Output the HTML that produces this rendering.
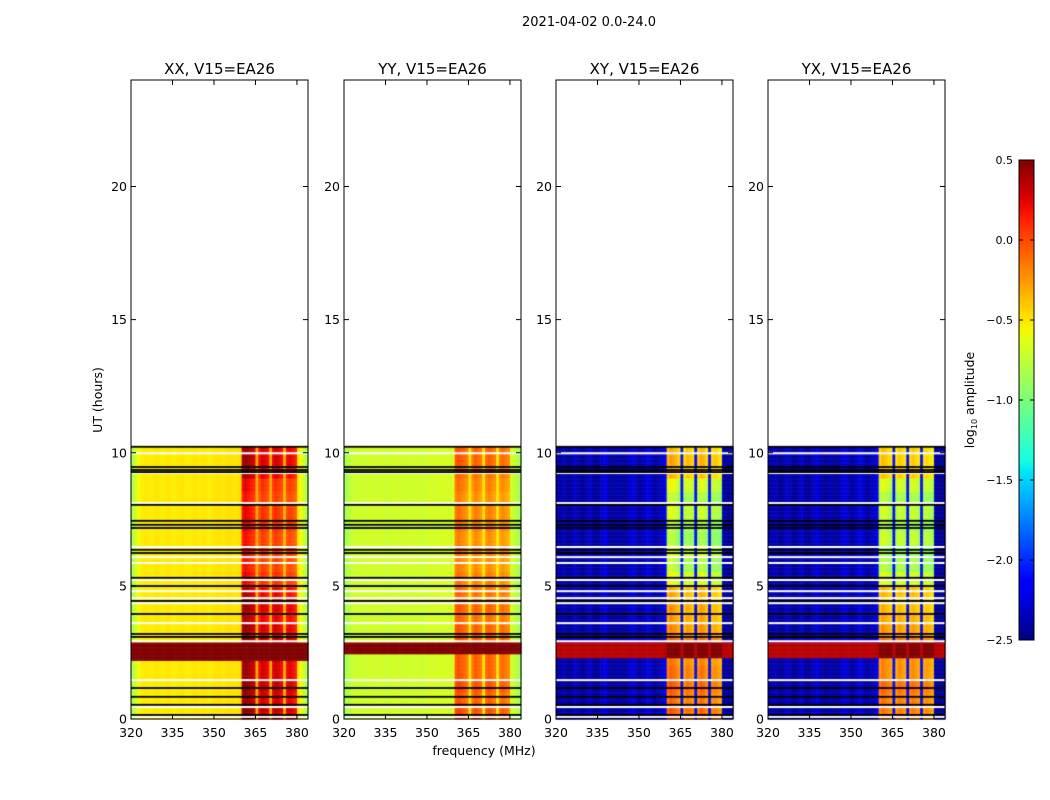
<!DOCTYPE html>
<html><head><meta charset="utf-8">
<style>
body{margin:0;background:#fff;width:1050px;height:800px;overflow:hidden;position:relative;font-family:"DejaVu Sans","Liberation Sans",sans-serif;}
canvas,svg{position:absolute;left:0;top:0;}
</style></head>
<body>
<canvas id="heat" width="1050" height="800"></canvas>
<svg id="ov" width="1050" height="800"></svg>
<script>
// ---- data ----
const panelTitles = ["XX, V15=EA26","YY, V15=EA26","XY, V15=EA26","YX, V15=EA26"];
const freqStart = 320, freqEnd = 384;          // MHz, 1 MHz channels
const tStart = 0, tEnd = 24;                    // hours
const dataEnd = 10.25;
const xTicks = [320,335,350,365,380];
const yTicks = [0,5,10,15,20];
const cbTicks = [0.5,0.0,-0.5,-1.0,-1.5,-2.0,-2.5];
const rfiMask = [0,0,0,0,0,0,0,0,0,0, 0,0,0,0,0,0,0,0,0,0, 0,0,0,0,0,0,0,0,0,0, 0,0,0,0,0,0,0,0,0,0,
                 1,1,1,1,1,0,1,1,1,1, 0,1,1,1,1,0,1,1,1,1, 0,0,0,0];
const xxSpec = [-0.85,-0.7,-0.58,-0.54,-0.52,-0.51,-0.52,-0.53,-0.51,-0.5, -0.52,-0.53,-0.51,-0.5,-0.52,-0.54,-0.52,-0.51,-0.5,-0.52,
  -0.53,-0.52,-0.51,-0.5,-0.52,-0.51,-0.5,-0.52,-0.53,-0.51, -0.5,-0.49,-0.5,-0.51,-0.49,-0.48,-0.49,-0.5,-0.49,-0.47,
  0.3,0.35,0.3,0.25,0.2, -0.3, 0.1,0.2,0.15,0.1, -0.3, 0.15,0.2,0.15,0.1, -0.35, 0.1,0.15,0.1,0.05, -0.5,-0.58,-0.7,-0.85];
const yySpec = [-0.88,-0.8,-0.74,-0.72,-0.7,-0.69,-0.7,-0.71,-0.69,-0.68, -0.7,-0.71,-0.69,-0.68,-0.7,-0.72,-0.7,-0.69,-0.68,-0.7,
  -0.71,-0.7,-0.69,-0.68,-0.7,-0.69,-0.68,-0.7,-0.71,-0.69, -0.68,-0.67,-0.68,-0.69,-0.67,-0.66,-0.67,-0.68,-0.67,-0.66,
  -0.1,-0.05,-0.1,-0.15,-0.2, -0.5, -0.2,-0.1,-0.15,-0.2, -0.5, -0.15,-0.1,-0.15,-0.2, -0.5, -0.2,-0.15,-0.2,-0.25, -0.68,-0.72,-0.78,-0.88];
const xySpec = [-2.4,-2.4,-2.35,-2.4,-2.45,-2.4,-2.3,-2.35,-2.4,-2.45, -2.4,-2.35,-2.3,-2.4,-2.45,-2.4,-2.35,-2.2,-2.3,-2.4,
  -2.45,-2.4,-2.35,-2.4,-2.45,-2.4,-2.3,-2.25,-2.3,-2.4, -2.4,-2.35,-2.3,-2.25,-2.3,-2.4,-2.4,-2.35,-2.3,-2.2,
  -0.7,-0.6,-0.65,-0.7,-0.8, -2.1, -0.8,-0.7,-0.75,-0.8, -2.1, -0.75,-0.65,-0.7,-0.8, -2.1, -0.8,-0.75,-0.8,-0.85, -2.4,-2.4,-2.45,-2.45];
const yxSpec = [-2.4,-2.35,-2.35,-2.4,-2.45,-2.4,-2.3,-2.35,-2.4,-2.45, -2.4,-2.35,-2.3,-2.4,-2.45,-2.4,-2.35,-2.25,-2.3,-2.4,
  -2.45,-2.4,-2.35,-2.4,-2.45,-2.4,-2.3,-2.25,-2.3,-2.4, -2.4,-2.35,-2.3,-2.25,-2.3,-2.4,-2.4,-2.35,-2.3,-2.2,
  -0.75,-0.65,-0.7,-0.75,-0.8, -2.1, -0.8,-0.7,-0.75,-0.8, -2.1, -0.75,-0.7,-0.75,-0.8, -2.1, -0.8,-0.75,-0.8,-0.85, -2.4,-2.4,-2.45,-2.45];
// RFI offset per 0.5 h segment (0..10.5 h)
const xxRfiProf = [0.15,0.1,0.15,0.1,0.1, 0.2, 0.1,0.05,0.1,0.05, -0.1,-0.15,-0.1,-0.15,-0.1,-0.1,-0.15,-0.1,0.05,0.1,0.1];
const yyRfiProf = [0.1,0.05,0.1,0.05,0.05, 0.1, 0.05,0.0,0.05,0.0, -0.05,-0.1,-0.05,-0.1,-0.05,-0.05,-0.1,-0.05,0.0,0.05,0.05];
const xyRfiProf = [0.6,0.55,0.6,0.55,0.5, 0.6, 0.45,0.4,0.4,0.35, 0.05,-0.1,0.0,-0.15,-0.1,0.0,-0.1,0.05,0.3,0.35,0.3];
const yxRfiProf = [0.55,0.55,0.6,0.5,0.5, 0.6, 0.45,0.4,0.35,0.35, 0.05,-0.1,-0.15,0.0,-0.1,0.0,-0.1,0.05,0.3,0.3,0.3];
const bandStart = [2.2,2.4,2.3,2.3];
const bandEnd = [2.85,2.85,2.85,2.85];
const bandValue = [0.6,0.6,0.35,0.35];
const bandRfiValue = [0.6,0.6,0.6,0.6];
const whiteRows = [9.98,9.24,8.11,6.46,6.08,5.86,5.22,4.8,4.54,4.35,3.6,2.92,1.46,0.45,0.08];
const blackRows = [10.22,9.46,9.35,9.27,8.04,7.44,7.29,7.17,6.35,6.23,5.3,4.99,4.43,3.94,3.19,3.08,1.16,0.83,0.53,0.15];

{
const specs = [xxSpec,yySpec,xySpec,yxSpec];
const profs = [xxRfiProf,yyRfiProf,xyRfiProf,yxRfiProf];
// ---- layout ----
const panelLeft = [131,344,556,768], panelW = 177, axTop = 80, axBottom = 719;
const vmin=-2.5, vmax=0.5;
function xOf(p,f){return panelLeft[p] + (f-freqStart)/(freqEnd-freqStart)*panelW;}
function yOf(t){return axBottom - (t-tStart)/(tEnd-tStart)*(axBottom-axTop);}
function interp(pts,x){
  for(let i=1;i<pts.length;i++){ if(x<=pts[i][0]){const a=pts[i-1],b=pts[i];return a[1]+(b[1]-a[1])*(x-a[0])/(b[0]-a[0]);} }
  return pts[pts.length-1][1];
}
const jr=[[0,0],[0.35,0],[0.66,1],[0.89,1],[1,0.5]];
const jg=[[0,0],[0.125,0],[0.375,1],[0.64,1],[0.91,0],[1,0]];
const jb=[[0,0.5],[0.11,1],[0.34,1],[0.65,0],[1,0]];
function jet(v){
  let x=(v-vmin)/(vmax-vmin); x=Math.max(0,Math.min(1,x));
  const c=a=>Math.round(255*a);
  return `rgb(${c(interp(jr,x))},${c(interp(jg,x))},${c(interp(jb,x))})`;
}
const ctx=document.getElementById('heat').getContext('2d');
const dt=0.05;
for(let p=0;p<4;p++){
  const spec=specs[p], prof=profs[p];
  for(let t=0;t<dataEnd;t+=dt){
    const seg=Math.min(prof.length-1,Math.floor(t/0.5));
    const inBand = t>=bandStart[p] && t<bandEnd[p];
    const y0=yOf(t+dt), y1=yOf(t);
    for(let i=0;i<spec.length;i++){
      let v;
      if(inBand) v = rfiMask[i]?bandRfiValue[p]:bandValue[p];
      else v = spec[i] + (rfiMask[i]?prof[seg]:0);
      ctx.fillStyle=jet(v);
      const x0=xOf(p,freqStart+i), x1=xOf(p,freqStart+i+1);
      ctx.fillRect(x0,y0,x1-x0+0.5,y1-y0+0.5);
    }
  }
  const L=panelLeft[p];
  ctx.fillStyle='#fff';
  whiteRows.forEach(t=>ctx.fillRect(L,yOf(t)-1,panelW,2));
  ctx.fillStyle='#000';
  blackRows.forEach(t=>ctx.fillRect(L,yOf(t)-1,panelW,1.8));
}
// ---- axes overlay ----
const NS='http://www.w3.org/2000/svg', svg=document.getElementById('ov');
function el(tag,attrs,parent){const e=document.createElementNS(NS,tag);for(const k in attrs)e.setAttribute(k,attrs[k]);(parent||svg).appendChild(e);return e;}
function txt(s,attrs,parent){const e=el('text',attrs,parent);e.textContent=s;return e;}
const sup=txt("2021-04-02 0.0-24.0",{x:589,y:26,'text-anchor':'middle','font-size':13});


for(let p=0;p<4;p++){
  const L=panelLeft[p], g=el('g',{});
  
  
  const t=txt(panelTitles[p],{x:L+panelW/2,y:74,'text-anchor':'middle','font-size':15},g);
  
  
  const fr=el('rect',{x:L,y:axTop,width:panelW,height:axBottom-axTop,fill:'none',stroke:'#000','stroke-width':1},g);
  
  
  xTicks.forEach(f=>{
    const x=xOf(p,f);
    el('line',{x1:x,x2:x,y1:axBottom,y2:axBottom-5,stroke:'#000'},g);
    el('line',{x1:x,x2:x,y1:axTop,y2:axTop+5,stroke:'#000'},g);
    const l=txt(String(f),{x:x,y:737,'text-anchor':'middle','font-size':12.5},g);
    
    
  });
  yTicks.forEach(v=>{
    const y=yOf(v);
    el('line',{x1:L,x2:L+5,y1:y,y2:y,stroke:'#000'},g);
    el('line',{x1:L+panelW,x2:L+panelW-5,y1:y,y2:y,stroke:'#000'},g);
    const l=txt(String(v),{x:L-4,y:y+4.5,'text-anchor':'end','font-size':12.5},g);
    
    
  });
}
const xl=txt("frequency (MHz)",{x:484,y:755,'text-anchor':'middle','font-size':12.5});


const yl=txt("UT (hours)",{x:0,y:0,'text-anchor':'middle','font-size':12.5,transform:'translate(102,400) rotate(-90)'});


// colorbar
const cbX=1019,cbW=15,cbTop=160,cbBot=640;
const defs=el('defs',{});
const grad=el('linearGradient',{id:'jetg',x1:0,y1:1,x2:0,y2:0},defs);
for(let k=0;k<=40;k++){el('stop',{offset:k/40,'stop-color':jet(vmin+k/40*(vmax-vmin))},grad);}
const cb=el('rect',{x:cbX,y:cbTop,width:cbW,height:cbBot-cbTop,fill:'url(#jetg)',stroke:'#000'});


cbTicks.forEach(v=>{
  const y=cbBot-(v-vmin)/(vmax-vmin)*(cbBot-cbTop);
  el('line',{x1:cbX+cbW-4,x2:cbX+cbW,y1:y,y2:y,stroke:'#000'});
  el('line',{x1:cbX,x2:cbX+4,y1:y,y2:y,stroke:'#000'});
  const l=txt(v.toFixed(1).replace('-','\u2212'),{x:cbX-6,y:y+4,'text-anchor':'end','font-size':11});
  
  
});
const cl=el('text',{x:0,y:0,'text-anchor':'middle','font-size':12.5,transform:'translate(974,400) rotate(-90)'});


cl.innerHTML='log<tspan font-size="8" dy="3">10</tspan><tspan dy="-3"> amplitude</tspan>';
}
</script>
</body></html>
